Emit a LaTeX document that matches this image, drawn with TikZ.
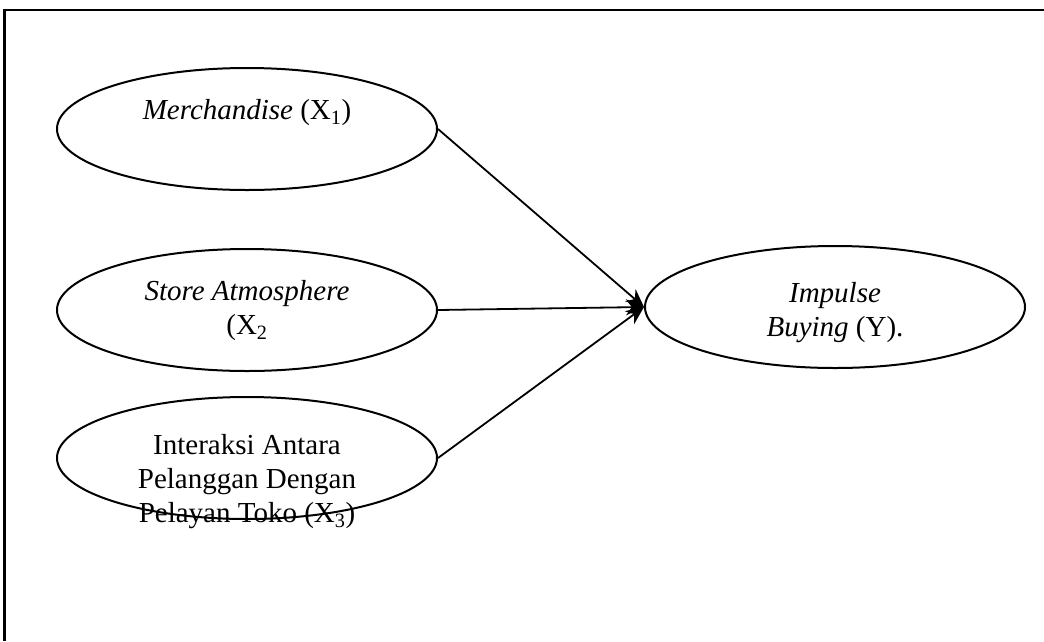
\documentclass[tikz,border=0pt]{standalone}
\usepackage{fontspec}
\setmainfont{Liberation Serif}
\usetikzlibrary{shapes.geometric,arrows.meta}
\begin{document}
\begin{tikzpicture}[x=1pt,y=-1pt,
  var/.style={draw,ellipse,line width=2pt,minimum width=380pt,minimum height=122pt,inner sep=0pt},
  lbl/.style={align=center,font=\fontsize{29}{34}\selectfont,inner sep=0pt},
  conn/.style={line width=1.8pt,-{Stealth[length=18pt,width=16pt]}}]
\useasboundingbox (0,0) rectangle (1044,641);
\draw[line width=2.5pt] (1044,10) -- (4.5,10) -- (4.5,641);
\node[var] (x1) at (247,129) {};
\node[var] (x2) at (247,310) {};
\node[var] (x3) at (247,458) {};
\node[var] (y) at (835,307) {};
\node[lbl] (t1) at (247,113) {\textit{Merchandise} (X\textsubscript{1})};
\node[lbl] (t2) at (247,311) {\textit{Store Atmosphere}\\(X\textsubscript{2}};
\node[lbl] (t3) at (247,482) {Interaksi Antara\\Pelanggan Dengan\\Pelayan Toko (X\textsubscript{3})};
\node[lbl] (t4) at (835,313) {\textit{Impulse}\\\textit{Buying} (Y).};
\draw[conn] (x1.east) -- (y.west);
\draw[conn] (x2.east) -- (y.west);
\draw[conn] (x3.east) -- (y.west);
\end{tikzpicture}
\end{document}
